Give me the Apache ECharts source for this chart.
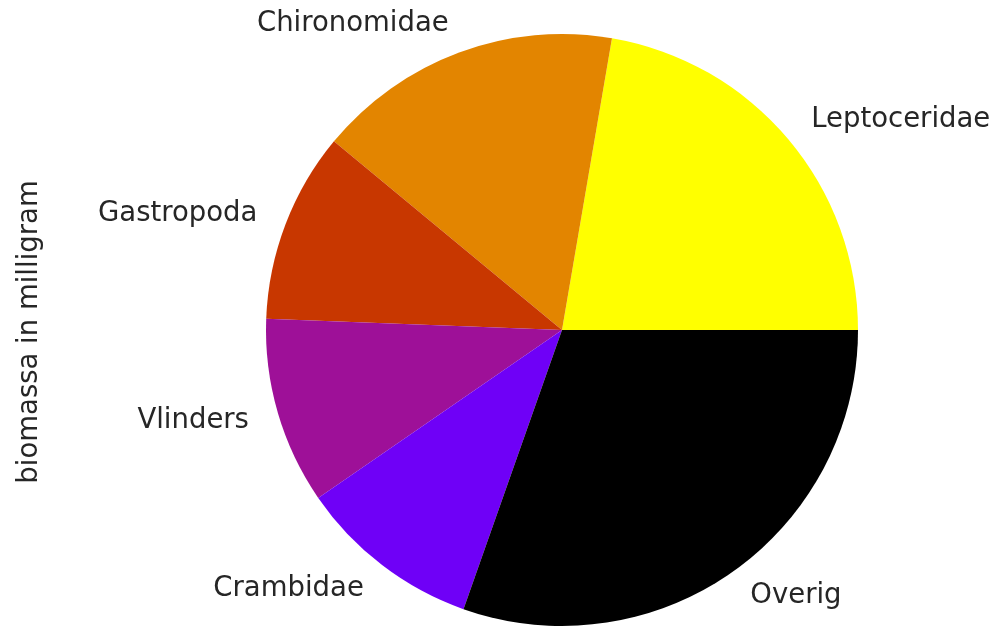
<!DOCTYPE html>
<html>
<head>
<meta charset="utf-8">
<script src="https://cdn.jsdelivr.net/npm/echarts@6/dist/echarts.min.js"></script>
<style>
  html, body { margin: 0; padding: 0; background: #fff; }
  #chart { width: 999px; height: 627px; }
</style>
</head>
<body>
<div id="chart"></div>
<script>
// slices in matplotlib order (counter-clockwise from east)
const categories = ['Leptoceridae', 'Chironomidae', 'Gastropoda', 'Vlinders', 'Crambidae', 'Overig']
const values = [22.3, 16.7, 10.4, 10.2, 10.0, 30.4]
const colors = ['#ffff00', '#e38500', '#c83700', '#9e1098', '#6f00f7', '#000000']
const yLabel = 'biomassa in milligram'

const chart = echarts.init(document.getElementById('chart'))
const R = 296

const option = {
  animation: false,
  textStyle: { fontFamily: 'DejaVu Sans' },
  graphic: [
    {
      type: 'text',
      x: 30,
      y: 332,
      rotation: Math.PI / 2,
      style: {
        text: yLabel,
        fontFamily: 'DejaVu Sans',
        fontSize: 27.5,
        fill: '#262626',
        align: 'center',
        verticalAlign: 'middle'
      }
    }
  ],
  series: [
    {
      type: 'pie',
      center: [562, 330],
      radius: [0, R],
      startAngle: 0,
      clockwise: false,
      avoidLabelOverlap: false,
      data: categories.map((c, i) => ({ name: c, value: values[i], itemStyle: { color: colors[i] } })),
      itemStyle: { borderWidth: 0 },
      label: {
        show: true,
        position: 'outside',
        color: '#262626',
        fontSize: 27.5,
        fontFamily: 'DejaVu Sans',
        distanceToLabelLine: 0,
        formatter: '{b}'
      },
      labelLine: { show: false, length: 30, length2: 0 },
      emphasis: { disabled: true }
    }
  ]
}

chart.setOption(option)
</script>
</body>
</html>
